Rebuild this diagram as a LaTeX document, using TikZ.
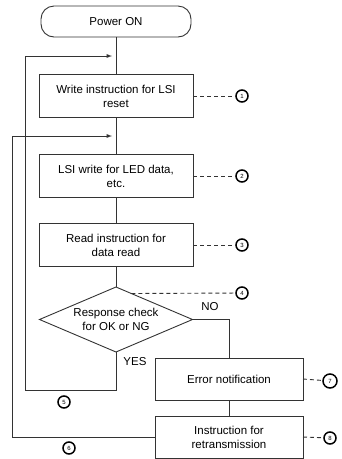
\documentclass[tikz,border=0pt]{standalone}
\usepackage{fontspec}
\setmainfont{Liberation Sans}
\usetikzlibrary{calc,positioning,shapes,arrows}

\begin{document}
\begin{tikzpicture}[x=1pt,y=-1pt,
  every node/.style={font=\fontsize{11.5}{14}\selectfont, outer sep=0pt},
  box/.style={draw=black!80, line width=0.9pt, rectangle, align=center, inner sep=1pt,
    minimum width=154pt, minimum height=43pt},
  errbox/.style={box, minimum width=148pt, minimum height=42pt},
  term/.style={draw=black!80, line width=0.9pt, rectangle, rounded corners=13pt,
    minimum width=150pt, minimum height=31pt},
  check/.style={draw=black!80, line width=0.9pt, diamond, aspect=2.35, inner sep=0pt,
    minimum width=153pt, minimum height=65pt, align=center},
  num/.style={draw=black, line width=1.5pt, circle, inner sep=0pt, minimum size=12pt,
    font=\fontsize{6}{6}\selectfont},
  line/.style={draw=black!80, line width=0.9pt},
  flow/.style={line, -latex},
  ref/.style={line, dash pattern=on 4pt off 3pt}
]
\useasboundingbox (0,0) rectangle (341,459);

\node[term] (power) at (116,21.5) {Power ON};
\node[box] (reset) at (116,96) {Write instruction for LSI\\reset};
\node[box] (ledwrite) at (116,176) {LSI write for LED data,\\etc.};
\node[box] (readinst) at (116,245) {Read instruction for\\data read};
\node[check] (check) at (116,319.5) {Response check\\for OK or NG};
\node[errbox] (error) at (229,379) {Error notification};
\node[errbox] (retrans) at (229,437) {Instruction for\\retransmission};

\node (no) at (210,307) {NO};
\node (yes) at (135,362) {YES};

\node[num] (n1) at (242,96) {1};
\node[num] (n2) at (242,176) {2};
\node[num] (n3) at (242,245) {3};
\node[num] (n4) at (242,293) {4};
\node[num] (n5) at (64,402) {5};
\node[num] (n6) at (69,448) {6};
\node[num, minimum size=14pt] (n7) at (330,381) {7};
\node[num] (n8) at (330,438) {8};

\coordinate (in1) at (112,56);
\coordinate (in2) at (112,136);
\coordinate (loopA) at (25,390);
\coordinate (loopB) at (12,437);

\draw[line] (power) -- (reset);
\draw[line] (reset) -- (ledwrite);
\draw[line] (ledwrite) -- (readinst);
\draw[line] (readinst) -- (check);
\draw[line] (check.east) -| (error.north);
\draw[line] (error) -- (retrans);
\draw[flow] (check.south) |- (loopA) |- (in1);
\draw[flow] (retrans.west) -- (loopB) |- (in2);

\draw[ref] (reset.east) -- (n1);
\draw[ref] (ledwrite.east) -- (n2);
\draw[ref] (readinst.east) -- (n3);
\draw[ref] ($(check.north)!0.2!(check.east)$) -- (n4);
\draw[ref] (error.east) -- (n7);
\draw[ref] (retrans.east) -- (n8);
\end{tikzpicture}
\end{document}
